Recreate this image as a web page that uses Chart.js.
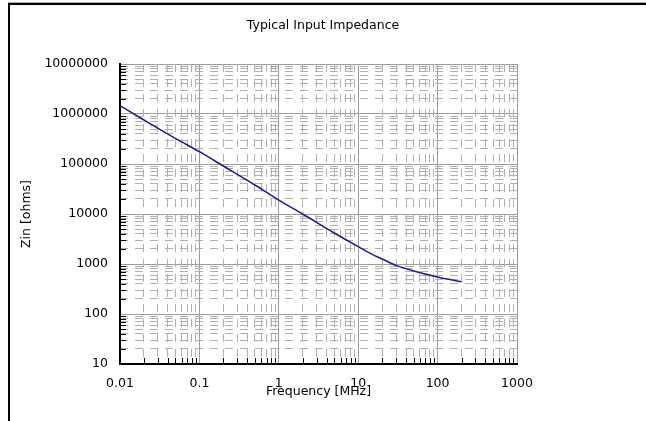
<!DOCTYPE html>
<html><head><meta charset="utf-8">
<script src="https://cdn.jsdelivr.net/npm/chart.js@4.4.1/dist/chart.umd.min.js"></script>
<style>
html,body{margin:0;padding:0;background:#fff;overflow:hidden}
#frame{position:absolute;left:8px;top:3px;width:700px;height:500px;border-left:2px solid #000;border-top:2px solid #000;box-shadow:0 -1px 0 #aaa}
#wrap{position:absolute;left:0;top:0;width:646px;height:421px}
</style></head><body>
<div id="frame"></div>
<div id="wrap"><canvas id="c" width="646" height="421"></canvas></div>
<script>
const frequencyMHz = [0.01, 0.02, 0.05, 0.1, 0.2, 0.5, 1, 2, 5, 10, 15, 20, 30, 50, 100, 200];
const zinOhms = [1466000, 759000, 324000, 176000, 91200, 38000, 19000, 10000, 4170, 2220, 1560, 1260, 940, 724, 550, 443];
const xMajorTicks = [0.01, 0.1, 1, 10, 100, 1000];
const yMajorTicks = [10, 100, 1000, 10000, 100000, 1000000, 10000000];
const minorMultipliers = [2, 3, 4, 5, 6, 7, 8, 9];

function minorsOf(majors) {
  const out = [];
  for (let i = 0; i < majors.length - 1; i++) {
    for (const m of minorMultipliers) out.push(+(majors[i] * m).toPrecision(6));
  }
  return out;
}
const xMinorTicks = minorsOf(xMajorTicks);
const yMinorTicks = minorsOf(yMajorTicks);

const FONT = {family: "'DejaVu Sans', Verdana, sans-serif", size: 12.5, weight: 'normal'};
const MAJOR_GRID = '#9c9c9c';
const MINOR_GRID = '#b0b0b0';

const innerTicks = {
  id: 'innerTicks',
  afterDraw(chart) {
    const {ctx, chartArea: a, scales} = chart;
    ctx.save();
    ctx.strokeStyle = '#000';
    ctx.lineWidth = 1;
    ctx.beginPath();
    scales.xm.ticks.forEach(t => {
      const px = Math.round(scales.xm.getPixelForValue(t.value)) + 0.5;
      ctx.moveTo(px, a.bottom); ctx.lineTo(px, a.bottom - 6);
    });
    scales.ym.ticks.forEach(t => {
      const py = Math.round(scales.ym.getPixelForValue(t.value)) + 0.5;
      ctx.moveTo(a.left, py); ctx.lineTo(a.left + 6, py);
    });
    ctx.stroke();
    ctx.restore();
  }
};

new Chart(document.getElementById('c'), {
  type: 'line',
  data: {
    datasets: [{
      data: frequencyMHz.map((f, i) => ({x: f, y: zinOhms[i]})),
      borderColor: '#1c1c8c',
      borderWidth: 1.5,
      pointRadius: 0,
      fill: false,
      cubicInterpolationMode: 'monotone'
    }]
  },
  options: {
    responsive: false,
    animation: false,
    layout: {padding: 0},
    plugins: {
      legend: {display: false},
      tooltip: {enabled: false},
      title: {display: true, text: 'Typical Input Impedance', color: '#000', font: FONT, padding: {top: 18.5, bottom: 30.5}}
    },
    scales: {
      x: {
        type: 'logarithmic', position: 'bottom', min: 0.01, max: 1000,
        afterBuildTicks: s => { s.ticks = xMajorTicks.map(v => ({value: v})); },
        afterFit: s => { s.height = 57; },
        ticks: {callback: v => String(v), color: '#000', font: FONT, padding: 12, maxRotation: 0, autoSkip: false},
        grid: {color: MAJOR_GRID, lineWidth: 1, drawTicks: false},
        border: {color: '#000', width: 2},
        title: {display: true, text: 'Frequency [MHz]', color: '#000', font: FONT, padding: {top: 0, bottom: 21.5}}
      },
      y: {
        type: 'logarithmic', position: 'left', min: 10, max: 10000000,
        afterBuildTicks: s => { s.ticks = yMajorTicks.map(v => ({value: v})); },
        afterFit: s => { s.width = 120; },
        ticks: {callback: v => String(v), color: '#000', font: FONT, padding: 12, autoSkip: false},
        grid: {color: MAJOR_GRID, lineWidth: 1, drawTicks: false},
        border: {color: '#000', width: 2},
        title: {display: true, text: 'Zin [ohms]', color: '#000', font: FONT, padding: {top: 19.5, bottom: 0}}
      },
      xm: {
        type: 'logarithmic', position: 'bottom', min: 0.01, max: 1000,
        afterBuildTicks: s => { s.ticks = xMinorTicks.map(v => ({value: v})); },
        afterFit: s => { s.height = 0; },
        ticks: {display: false},
        grid: {color: MINOR_GRID, lineWidth: 1, drawTicks: false},
        border: {display: false, dash: [8, 7]}
      },
      ym: {
        type: 'logarithmic', position: 'right', min: 10, max: 10000000,
        afterBuildTicks: s => { s.ticks = yMinorTicks.map(v => ({value: v})); },
        afterFit: s => { s.width = 129; },
        ticks: {display: false},
        grid: {color: MINOR_GRID, lineWidth: 1, drawTicks: false},
        border: {display: false, dash: [8, 7]}
      }
    }
  },
  plugins: [innerTicks]
});
</script>
</body></html>
